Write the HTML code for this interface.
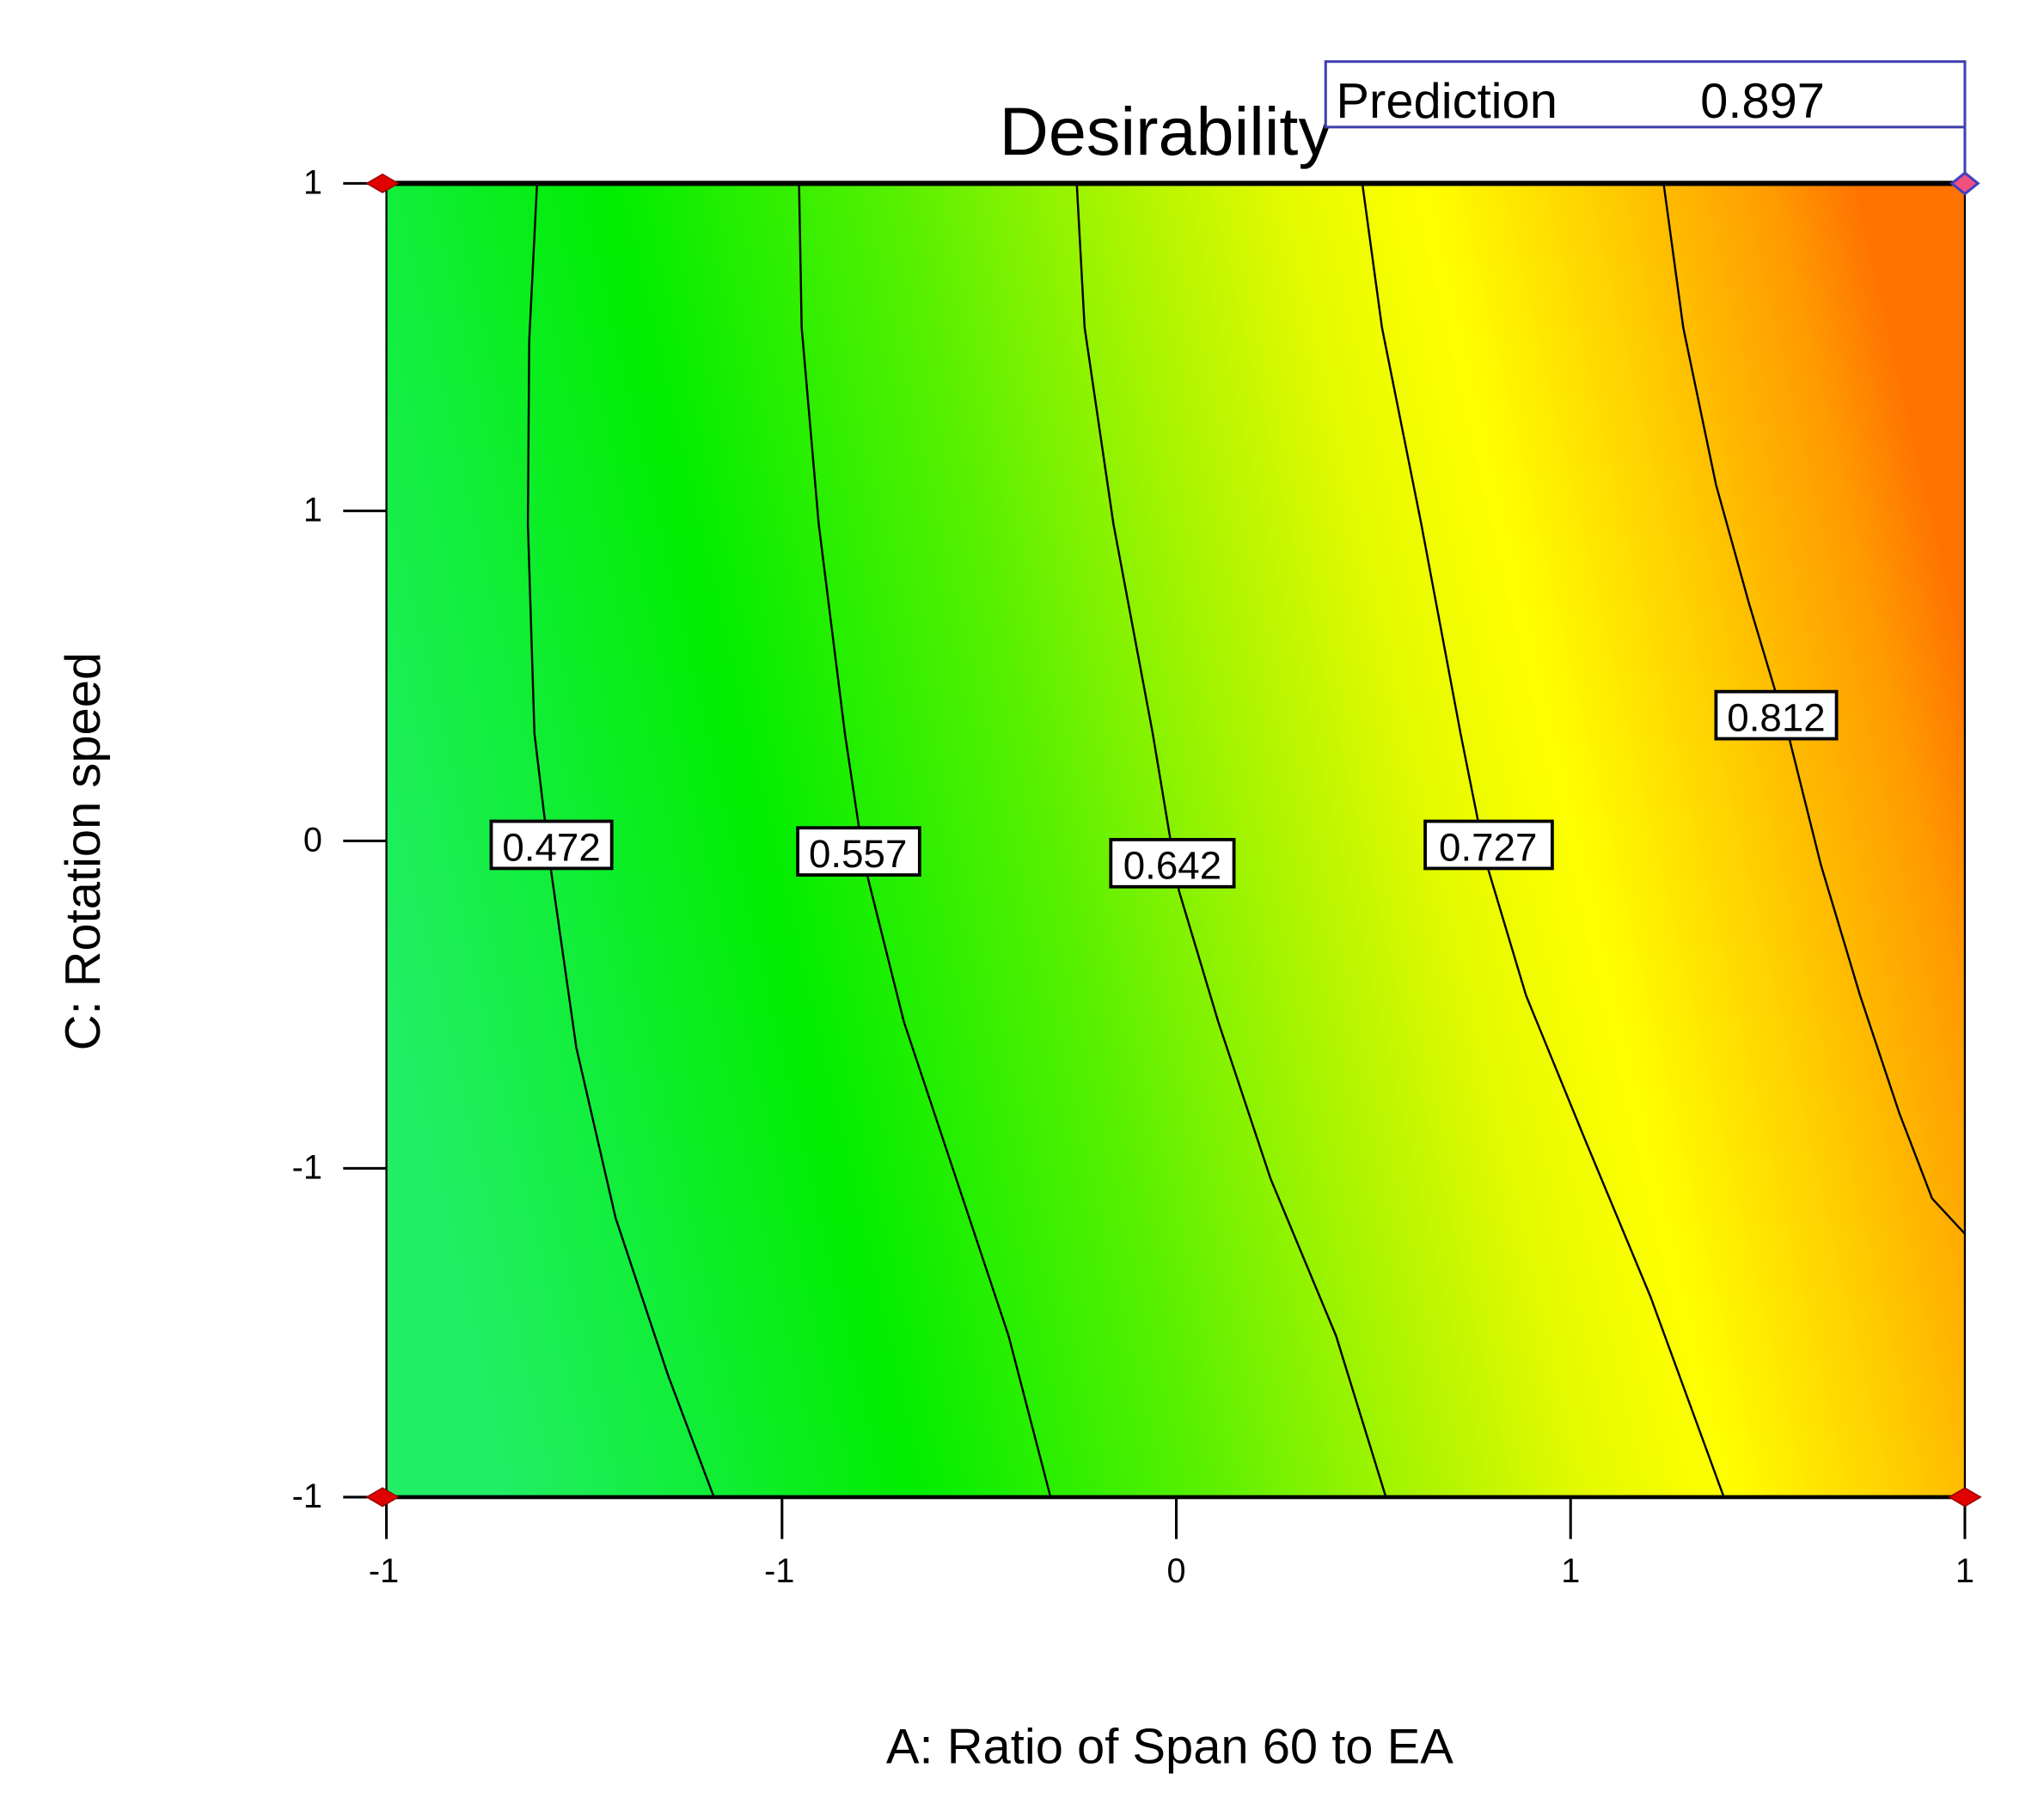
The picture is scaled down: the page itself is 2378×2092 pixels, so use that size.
<!DOCTYPE html>
<html><head><style>html,body{margin:0;padding:0;background:#fff}svg{display:block}</style></head>
<body>
<svg width="2378" height="2092" viewBox="0 0 1560.4 1372.7" xmlns="http://www.w3.org/2000/svg" font-family="'Liberation Sans', sans-serif">
<defs>
<linearGradient id="g" x1="295" y1="780" x2="1500" y2="500" gradientUnits="userSpaceOnUse">
<stop offset="0" stop-color="#22ee66"/>
<stop offset="0.12" stop-color="#12ee3a"/>
<stop offset="0.25" stop-color="#00ee00"/>
<stop offset="0.42" stop-color="#55f000"/>
<stop offset="0.55" stop-color="#a8f400"/>
<stop offset="0.66" stop-color="#e6fa00"/>
<stop offset="0.74" stop-color="#ffff00"/>
<stop offset="0.85" stop-color="#ffcc00"/>
<stop offset="0.95" stop-color="#ff9a00"/>
<stop offset="1" stop-color="#ff7400"/>
</linearGradient>
</defs>
<rect x="295" y="140" width="1205" height="1003" fill="url(#g)"/>
<g fill="none" stroke="#000" stroke-width="1.6">
<path d="M410,140 L404,260 L403,400 L408,560 L420,660 L440,800 L470,930 L510,1050 L545,1143"/>
<path d="M610,140 L612,250 L625,400 L645,560 L660,660 L690,780 L730,900 L770,1020 L802,1143"/>
<path d="M822,140 L828,250 L850,400 L880,560 L900,680 L930,780 L970,900 L1020,1020 L1058,1143"/>
<path d="M1040,140 L1055,250 L1085,400 L1115,560 L1135,660 L1165,760 L1210,870 L1260,990 L1316,1143"/>
<path d="M1270,140 L1285,250 L1310,370 L1335,460 L1365,560 L1390,660 L1420,760 L1450,850 L1475,915 L1500,942"/>
</g>
<g font-size="30" text-anchor="middle" fill="#000">
<rect x="375" y="627" width="92" height="36" fill="#fff" stroke="#000" stroke-width="2.5"/><text x="421" y="657">0.472</text>
<rect x="609" y="632" width="93" height="36" fill="#fff" stroke="#000" stroke-width="2.5"/><text x="655" y="662">0.557</text>
<rect x="848" y="641" width="94" height="36" fill="#fff" stroke="#000" stroke-width="2.5"/><text x="895" y="671">0.642</text>
<rect x="1088" y="627" width="97" height="36" fill="#fff" stroke="#000" stroke-width="2.5"/><text x="1136" y="657">0.727</text>
<rect x="1310" y="528" width="92" height="36" fill="#fff" stroke="#000" stroke-width="2.5"/><text x="1356" y="558">0.812</text>
</g>
<rect x="295" y="140" width="1205" height="1003" fill="none" stroke="#000" stroke-width="1.5"/>
<line x1="295" y1="140" x2="1500" y2="140" stroke="#000" stroke-width="4"/>
<line x1="295" y1="1143" x2="1500" y2="1143" stroke="#000" stroke-width="3"/>
<g stroke="#000" stroke-width="2">
<line x1="262" y1="140" x2="295" y2="140"/><line x1="262" y1="390" x2="295" y2="390"/><line x1="262" y1="642" x2="295" y2="642"/><line x1="262" y1="892" x2="295" y2="892"/><line x1="262" y1="1143" x2="295" y2="1143"/>
<line x1="295" y1="1143" x2="295" y2="1175"/><line x1="597" y1="1143" x2="597" y2="1175"/><line x1="898" y1="1143" x2="898" y2="1175"/><line x1="1199" y1="1143" x2="1199" y2="1175"/><line x1="1500" y1="1143" x2="1500" y2="1175"/>
</g>
<g font-size="26" fill="#000" text-anchor="end">
<text x="246" y="148">1</text><text x="246" y="398">1</text><text x="246" y="650">0</text><text x="246" y="900">-1</text><text x="246" y="1151">-1</text>
</g>
<g font-size="26" fill="#000" text-anchor="middle">
<text x="293" y="1208">-1</text><text x="595" y="1208">-1</text><text x="898" y="1208">0</text><text x="1199" y="1208">1</text><text x="1500" y="1208">1</text>
</g>
<g fill="#e00000" stroke="#900" stroke-width="1">
<path d="M280,140 L292,133 L304,140 L292,147 Z"/>
<path d="M280,1143 L292,1136 L304,1143 L292,1150 Z"/>
<path d="M1488,1143 L1500,1136 L1512,1143 L1500,1150 Z"/>
</g>
<path d="M1490,140 L1500,132 L1510,140 L1500,148 Z" fill="#f05080" stroke="#4040c0" stroke-width="2"/>
<text x="890" y="118" font-size="52" text-anchor="middle" fill="#000">Desirability</text>
<rect x="1012" y="47" width="488" height="50" fill="#fff" stroke="#4040b0" stroke-width="2"/>
<line x1="1500" y1="97" x2="1500" y2="132" stroke="#4040b0" stroke-width="2"/>
<text x="1020" y="90" font-size="38" fill="#000">Prediction</text>
<text x="1298" y="90" font-size="38" fill="#000">0.897</text>
<text transform="translate(76,650) rotate(-90)" font-size="38" text-anchor="middle" fill="#000">C: Rotation speed</text>
<text x="893" y="1346" font-size="38" text-anchor="middle" fill="#000">A: Ratio of Span 60 to EA</text>
</svg>
</body></html>
